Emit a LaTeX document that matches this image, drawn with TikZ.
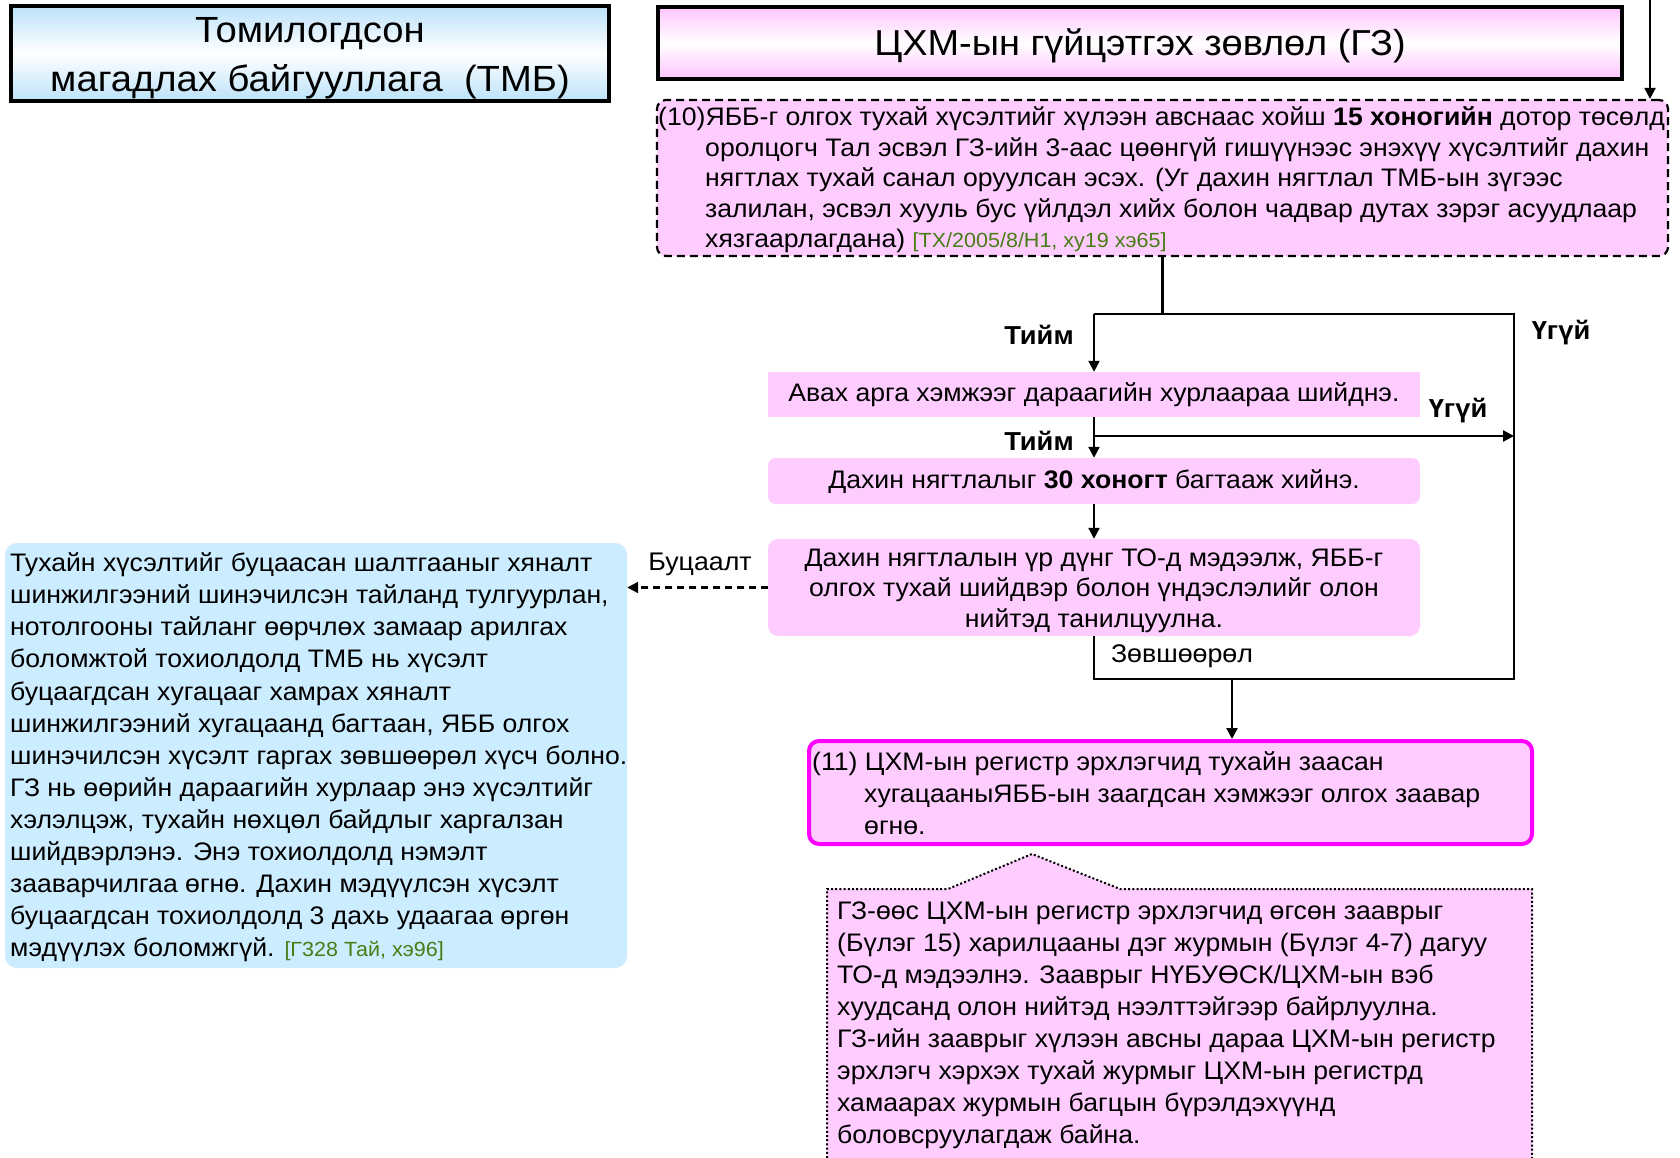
\documentclass[tikz,border=0pt]{standalone}
\usepackage{fontspec}
\setmainfont{Liberation Sans}[FakeStretch=1.05]
\usetikzlibrary{arrows.meta}
\definecolor{pinkfill}{RGB}{255,204,255}
\definecolor{bluefill}{RGB}{204,236,255}
\definecolor{titleblue}{RGB}{188,226,250}
\definecolor{titlepink}{RGB}{255,196,255}
\definecolor{magborder}{RGB}{255,0,255}
\definecolor{refgreen}{RGB}{70,125,20}
\newcommand{\myfs}[2]{\fontsize{#1}{#2}\selectfont}
\newcommand{\refg}[1]{{\color{refgreen}\myfs{20.5}{24}#1}}
\begin{document}
\begin{tikzpicture}[x=1pt,y=-1pt,
  arr/.style={-{Triangle[length=11pt,width=11pt]}},
  conn/.style={line width=2.2pt, black},
  titlebox/.style={draw=black, line width=4pt, inner sep=0pt},
  flowbox/.style={fill=pinkfill, inner sep=0pt},
  flowtxt/.style={inner sep=0pt, align=center, font=\myfs{25.35}{30.6}},
  txt/.style={inner sep=0pt, align=left, anchor=north west},
  lbl/.style={inner sep=0pt, font=\myfs{26}{30}\bfseries},
  lblr/.style={inner sep=0pt, font=\myfs{25.5}{30}},
  dotline/.style={line width=2pt, dash pattern=on 2pt off 2.2pt}
]
\useasboundingbox (0,0) rectangle (1680,1158);
\fill[white] (0,0) rectangle (1680,1158);

% title boxes
\node[titlebox, top color=titleblue, bottom color=titleblue, middle color=white,
      minimum width=598, minimum height=95] (tmb) at (310,53.5) {};
\node[inner sep=0pt, align=center, font=\myfs{36.4}{49}] (ttmb) at (310,58.5)
  {Томилогдсон\\магадлах байгууллага~~(ТМБ)};
\node[titlebox, top color=titlepink, bottom color=titlepink, middle color=white,
      minimum width=964, minimum height=72] (gz) at (1140,43) {};
\node[inner sep=0pt, font=\myfs{36.1}{45}] (tgz) at (1140,46)
  {ЦХМ-ын гүйцэтгэх зөвлөл (ГЗ)};

% box (10)
\node[fill=pinkfill, draw=black, line width=2.2pt, dash pattern=on 8pt off 5pt,
      rounded corners=9pt, minimum width=1011, minimum height=156, inner sep=0pt] (b10) at (1162.5,178) {};
\node[txt, font=\myfs{25.35}{30.6}] (t10) at (658,103.8)
  {\strut(10)ЯББ-г олгох тухай хүсэлтийг хүлээн авснаас хойш \textbf{15 хоногийн} дотор төсөлд\\
   \hspace*{47pt}оролцогч Тал эсвэл ГЗ-ийн 3-аас цөөнгүй гишүүнээс энэхүү хүсэлтийг дахин\\
   \hspace*{47pt}нягтлах тухай санал оруулсан эсэх. (Уг дахин нягтлал ТМБ-ын зүгээс\\
   \hspace*{47pt}залилан, эсвэл хууль бус үйлдэл хийх болон чадвар дутах зэрэг асуудлаар\\
   \hspace*{47pt}хязгаарлагдана) \refg{[ТХ/2005/8/Н1, ху19 хэ65]}};

% incoming arrow at top right
\coordinate (topin) at (1650,0);
\draw[conn, arr] (topin) -- (topin |- b10.north);

% flow boxes
\node[flowbox, minimum width=652, minimum height=45] (avah) at (1094,394.5) {};
\node[flowtxt] (tavah) at (1094,394.5) {Авах арга хэмжээг дараагийн хурлаараа шийднэ.};
\node[flowbox, rounded corners=8pt, minimum width=652, minimum height=46] (thirty) at (1094,481) {};
\node[flowtxt] (tthirty) at (1094,481.5) {Дахин нягтлалыг \textbf{30 хоногт} багтааж хийнэ.};
\node[flowbox, rounded corners=10pt, minimum width=652, minimum height=97] (res) at (1094,587.5) {};
\node[flowtxt] (tres) at (1094,590.5)
  {Дахин нягтлалын үр дүнг ТО-д мэдээлж, ЯББ-г\\олгох тухай шийдвэр болон үндэслэлийг олон\\нийтэд танилцуулна.};

% box (11)
\node[fill=pinkfill, draw=magborder, line width=4pt, rounded corners=10pt,
      minimum width=723, minimum height=103, inner sep=0pt] (b11) at (1170.5,792.5) {};
\node[txt, font=\myfs{25.35}{31.6}] (t11) at (812,748.5)
  {\strut(11) ЦХМ-ын регистр эрхлэгчид тухайн заасан\\
   \hspace*{52pt}хугацааныЯББ-ын заагдсан хэмжээг олгох заавар\\
   \hspace*{52pt}өгнө.};

% left blue box
\node[fill=bluefill, rounded corners=12pt, minimum width=622, minimum height=425, inner sep=0pt] (blue) at (316,755.5) {};
\node[txt, font=\myfs{25.35}{32.1}] (tblue) at (10,549)
  {\strut Тухайн хүсэлтийг буцаасан шалтгааныг хяналт\\
   шинжилгээний шинэчилсэн тайланд тулгуурлан,\\
   нотолгооны тайланг өөрчлөх замаар арилгах\\
   боломжтой тохиолдолд ТМБ нь хүсэлт\\
   буцаагдсан хугацааг хамрах хяналт\\
   шинжилгээний хугацаанд багтаан, ЯББ олгох\\
   шинэчилсэн хүсэлт гаргах зөвшөөрөл хүсч болно.\\
   ГЗ нь өөрийн дараагийн хурлаар энэ хүсэлтийг\\
   хэлэлцэж, тухайн нөхцөл байдлыг харгалзан\\
   шийдвэрлэнэ. Энэ тохиолдолд нэмэлт\\
   зааварчилгаа өгнө. Дахин мэдүүлсэн хүсэлт\\
   буцаагдсан тохиолдолд 3 дахь удаагаа өргөн\\
   мэдүүлэх боломжгүй. \refg{[Г328 Тай, хэ96]}};

% callout
\coordinate (cbl) at (827,1158);
\coordinate (ctl) at (827,889);
\coordinate (cp1) at (948,889);
\coordinate (capex) at (1032,854);
\coordinate (cp2) at (1120,889);
\coordinate (ctr) at (1532,889);
\coordinate (cbr) at (1532,1158);
\fill[pinkfill] (cbl) -- (ctl) -- (cp1) -- (capex) -- (cp2) -- (ctr) -- (cbr) -- cycle;
\draw[dotline] (cbl) -- (ctl) -- (cp1) -- (capex) -- (cp2) -- (ctr) -- (cbr);
\node[txt, font=\myfs{25.35}{32.1}] (tcall) at (837,896.5)
  {\strut ГЗ-өөс ЦХМ-ын регистр эрхлэгчид өгсөн зааврыг\\
   (Бүлэг 15) харилцааны дэг журмын (Бүлэг 4-7) дагуу\\
   ТО-д мэдээлнэ. Зааврыг НҮБУӨСК/ЦХМ-ын вэб\\
   хуудсанд олон нийтэд нээлттэйгээр байрлуулна.\\
   ГЗ-ийн зааврыг хүлээн авсны дараа ЦХМ-ын регистр\\
   эрхлэгч хэрхэх тухай журмыг ЦХМ-ын регистрд\\
   хамаарах журмын багцын бүрэлдэхүүнд\\
   боловсруулагдаж байна.};

% connectors
\coordinate (jl) at (1094,314);
\coordinate (jr) at (1514,314);
\coordinate (jbr) at (1514,679);
\coordinate (jbl) at (1094,679);
\coordinate (jm) at (1094,436);
\coordinate (jd) at (1232,679);
\draw[conn] (b10.south) -- (b10.south |- jl);
\draw[conn] (res.south) -- (jbl) -- (jbr) -- (jr) -- (jl);
\draw[conn, arr] (jl) -- (avah.north);
\draw[conn, arr] (avah.south) -- (thirty.north);
\draw[conn, arr] (jm) -- (jm -| jr);
\draw[conn, arr] (thirty.south) -- (res.north);
\draw[conn, arr] (jd) -- (jd |- b11.north);
\draw[conn, arr, dash pattern=on 7pt off 5pt] (res.west) -- (res.west -| blue.east);

% labels
\node[lbl] (ly1) at (1039,335) {Тийм};
\node[lbl] (ln1) at (1561,333) {Үгүй};
\node[lbl] (ln2) at (1458,411) {Үгүй};
\node[lbl] (ly2) at (1039,441) {Тийм};
\node[lblr] (lback) at (700,564) {Буцаалт};
\node[lblr] (lok) at (1182,656) {Зөвшөөрөл};
\end{tikzpicture}
\end{document}
